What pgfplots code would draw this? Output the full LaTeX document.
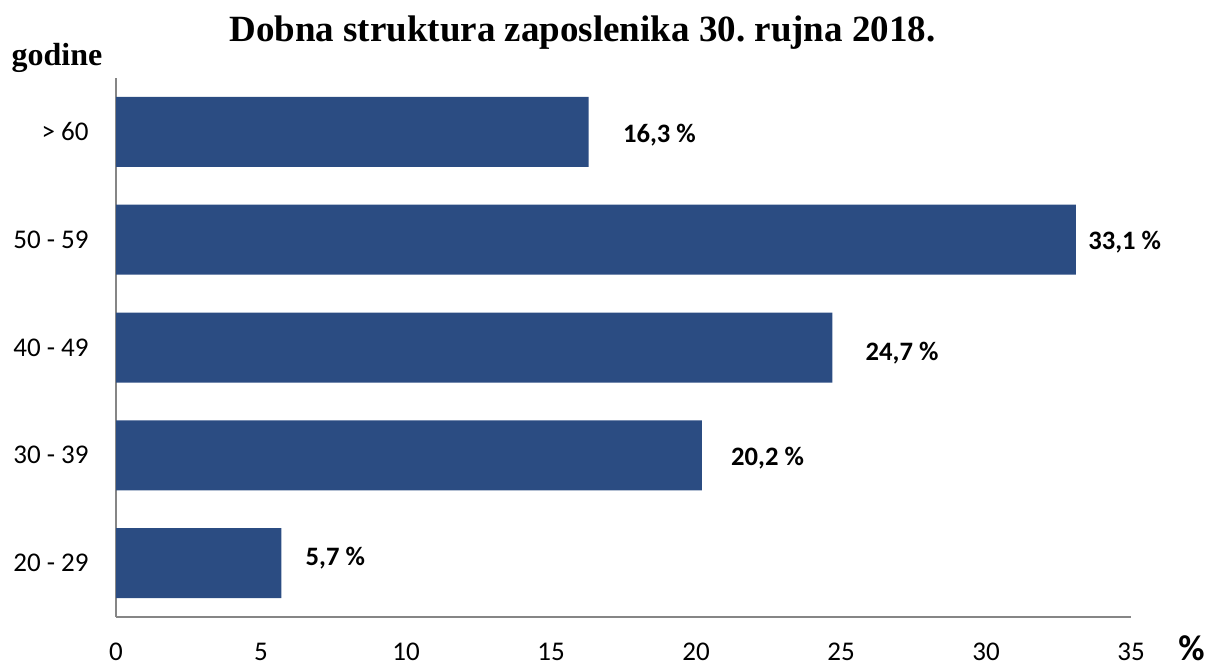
\documentclass[border=0pt]{standalone}
\usepackage{pgfplots}
\pgfplotsset{compat=1.18}
\usepackage{pgfplotstable}
\usepackage{fontspec}
\setmainfont{Carlito}
\newfontfamily\serifbold{Liberation Serif}
\definecolor{barblue}{RGB}{43,76,130}
\definecolor{axgray}{RGB}{134,134,134}
\frenchspacing
\pgfplotstableread{
y x dx dy
0 5.7 12 2.5
1 20.2 14.5 -1.5
2 24.7 16.5 -3
3 33.1 6 -1
4 16.3 17 -1.5
}\datatable
\begin{document}
\frenchspacing
\begin{tikzpicture}
\useasboundingbox (0,0) rectangle (609pt,334.5pt);
\begin{axis}[
  at={(58pt,26pt)}, anchor=south west,
  scale only axis,
  width=507.5pt, height=269.5pt,
  xmin=0, xmax=35, ymin=-0.5, ymax=4.5,
  xbar, bar width=35pt,
  axis lines=left,
  axis line style={draw=axgray, line width=0.8pt, -},
  major tick length=0pt,
  xtick={0,5,...,35},
  ytick={0,1,2,3,4},
  yticklabels={20 - 29, 30 - 39, 40 - 49, 50 - 59, > 60},
  /pgf/number format/assume math mode=true,
  tick label style={font=\fontsize{13.5}{16}\selectfont, inner sep=0pt},
  xticklabel style={anchor=north, yshift=-13pt},
  yticklabel style={anchor=east, xshift=-13.5pt},
  clip=false,
  point meta=x,
  visualization depends on={\thisrow{dx} \as \dx},
  visualization depends on={\thisrow{dy} \as \dy},
  nodes near coords={\pgfmathprintnumber[fixed, precision=1, fixed zerofill, use comma]{\pgfplotspointmeta}~\%},
  nodes near coords style={anchor=west, inner sep=0pt, xshift=\dx pt, yshift=\dy pt, font=\fontsize{13.3}{16}\selectfont\bfseries, text=black},
]
\addplot[fill=barblue, draw=none] table[x=x, y=y] {\datatable};
\end{axis}
\node[anchor=base, inner sep=0pt] at (291.25pt,313.5pt) {\serifbold\bfseries\fontsize{18.5}{22}\selectfont Dobna struktura zaposlenika 30. rujna 2018.};
\node[anchor=base, inner sep=0pt] at (28.5pt,301.5pt) {\serifbold\bfseries\fontsize{16}{19}\selectfont godine};
\node[anchor=base, inner sep=0pt] at (595.75pt,4.5pt) {\bfseries\fontsize{18}{21}\selectfont \%};
\end{tikzpicture}
\end{document}
